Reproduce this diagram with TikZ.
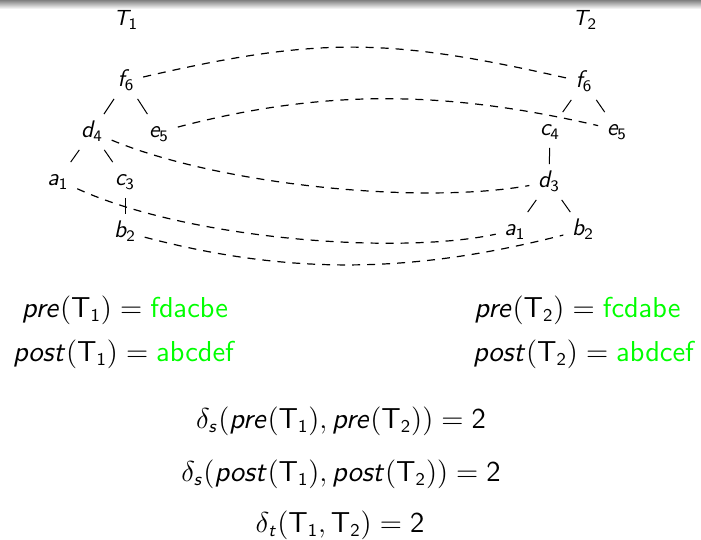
\documentclass[tikz,border=0pt]{standalone}
\usepackage{graphicx}
\DeclareMathAlphabet{\mathsfit}{OT1}{cmss}{m}{sl}
\newcommand{\hx}[1]{\scalebox{1.01}[1]{#1}}
\newcommand{\tv}[2]{$\mathsfit{#1}_{\mathsf{#2}}$}
\newcommand{\tT}[1]{\mathsf{T}_{\mathsf{#1}}}
\tikzset{
  tn/.style={font=\fontsize{11.5}{13}\selectfont, inner xsep=4.25pt, inner ysep=3.5pt, text height=8pt, text depth=2.5pt},
  tlab/.style={font=\fontsize{11}{13}\selectfont, anchor=base, inner sep=0pt},
  mt/.style={font=\fontsize{13.5}{16}\selectfont, anchor=base, inner sep=0pt},
  edge/.style={line width=0.5pt},
  match/.style={line width=0.6pt, dash pattern=on 4pt off 3.5pt},
}
\begin{document}
\begin{tikzpicture}[x=0.5pt, y=-0.5pt]
\path[use as bounding box] (0,0) rectangle (701,540);
\shade[top color=black!50, bottom color=white] (0,0) rectangle (701,9);

\node[tlab] (t1) at (126,26) {$\mathsfit{T}_{\mathsf{1}}$};
\node[tlab] (t2) at (585,26) {$\mathsfit{T}_{\mathsf{2}}$};

% left tree
\node[tn] (f6L) at (126,81) {\tv{f}{6}};
\node[tn] (d4L) at (92,132) {\tv{d}{4}};
\node[tn] (e5L) at (159,132) {\tv{e}{5}};
\node[tn] (a1L) at (58,180) {\tv{a}{1}};
\node[tn] (c3L) at (125,180) {\tv{c}{3}};
\node[tn] (b2L) at (125,232) {\tv{b}{2}};
\draw[edge] (f6L) -- (d4L);
\draw[edge] (f6L) -- (e5L);
\draw[edge] (d4L) -- (a1L);
\draw[edge] (d4L) -- (c3L);
\draw[edge] (c3L) -- (b2L);

% right tree
\node[tn] (f6R) at (584,82) {\tv{f}{6}};
\node[tn] (c4R) at (550,130) {\tv{c}{4}};
\node[tn] (e5R) at (617,130) {\tv{e}{5}};
\node[tn] (d3R) at (549,182) {\tv{d}{3}};
\node[tn] (a1R) at (515,230) {\tv{a}{1}};
\node[tn] (b2R) at (583,230) {\tv{b}{2}};
\draw[edge] (f6R) -- (c4R);
\draw[edge] (f6R) -- (e5R);
\draw[edge] (c4R) -- (d3R);
\draw[edge] (d3R) -- (a1R);
\draw[edge] (d3R) -- (b2R);

% matching
\draw[match] (f6L) .. controls (320,36) and (390,38) .. (f6R);
\draw[match] (e5L) .. controls (327,88) and (448,91) .. (e5R);
\draw[match] (d4L) .. controls (220,185) and (420,205) .. (d3R);
\draw[match] (a1L) .. controls (190,240) and (400,255) .. (a1R);
\draw[match] (b2L) .. controls (292,276) and (415,273) .. (b2R);

% sequences
\node[mt] (preL) at (125,317) {\hx{$\mathsfit{pre}(\tT{1}) = \textcolor{green}{\mathsf{fdacbe}}$}};
\node[mt] (postL) at (124.5,361) {\hx{$\mathsfit{post}(\tT{1}) = \textcolor{green}{\mathsf{abcdef}}$}};
\node[mt] (preR) at (577.5,317) {\hx{$\mathsfit{pre}(\tT{2}) = \textcolor{green}{\mathsf{fcdabe}}$}};
\node[mt] (postR) at (584.5,361) {\hx{$\mathsfit{post}(\tT{2}) = \textcolor{green}{\mathsf{abdcef}}$}};

\node[mt] (ds1) at (341,428) {\hx{$\delta_{\mathsfit{s}}(\mathsfit{pre}(\tT{1}), \mathsfit{pre}(\tT{2})) = \mathsf{2}$}};
\node[mt] (ds2) at (341,481) {\hx{$\delta_{\mathsfit{s}}(\mathsfit{post}(\tT{1}), \mathsfit{post}(\tT{2})) = \mathsf{2}$}};
\node[mt] (dt) at (340,532.5) {\hx{$\delta_{\mathsfit{t}}(\tT{1}, \tT{2}) = \mathsf{2}$}};
\end{tikzpicture}
\end{document}
